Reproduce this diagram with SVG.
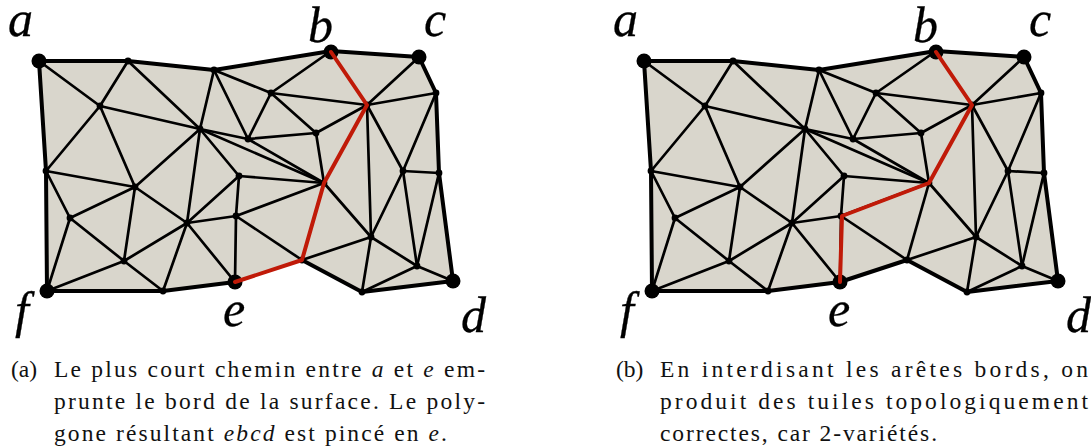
<svg xmlns="http://www.w3.org/2000/svg" xmlns:xlink="http://www.w3.org/1999/xlink" width="1091" height="447" viewBox="0 0 1091 447">
<style>
.surf{fill:#d9d6cc;stroke:none}
.e line{stroke:#000;stroke-width:2.7;stroke-linecap:round}
.bd{fill:none;stroke:#000;stroke-width:4;stroke-linejoin:round;stroke-linecap:round}
.red{fill:none;stroke:#c01a08;stroke-width:4;stroke-linejoin:round;stroke-linecap:round}
.n circle{fill:#000}
.big{fill:#000}
.lab{font-family:"Liberation Serif",serif;font-style:italic;font-size:50px;fill:#000;stroke:#000;stroke-width:.3}
.cap{font-family:"Liberation Serif",serif;font-size:23.5px;fill:#111}
.cap tspan{font-style:italic}
</style>
<defs>
<polygon id="surface" class="surf" points="39,61 128,61 214,70 331,51 419,57 436,93 439,173 453,281 362,292 302,260 235,282 163,291 47,291 46,171"/>
<g id="edges" class="e">
<line x1="39" y1="61" x2="100" y2="106"/><line x1="128" y1="61" x2="100" y2="106"/><line x1="128" y1="61" x2="200" y2="129"/>
<line x1="100" y1="106" x2="200" y2="129"/><line x1="100" y1="106" x2="46" y2="171"/><line x1="100" y1="106" x2="135" y2="187"/>
<line x1="214" y1="70" x2="200" y2="129"/><line x1="214" y1="70" x2="248" y2="139"/><line x1="214" y1="70" x2="271" y2="93"/>
<line x1="248" y1="139" x2="271" y2="93"/><line x1="248" y1="139" x2="316" y2="133"/><line x1="271" y1="93" x2="331" y2="51"/>
<line x1="271" y1="93" x2="367" y2="105"/><line x1="271" y1="93" x2="316" y2="133"/><line x1="316" y1="133" x2="367" y2="105"/>
<line x1="316" y1="133" x2="324" y2="183"/><line x1="367" y1="105" x2="419" y2="57"/><line x1="367" y1="105" x2="436" y2="93"/>
<line x1="367" y1="105" x2="403" y2="171"/><line x1="367" y1="105" x2="371" y2="237"/><line x1="436" y1="93" x2="403" y2="171"/>
<line x1="200" y1="129" x2="248" y2="139"/><line x1="200" y1="129" x2="324" y2="183"/><line x1="248" y1="139" x2="324" y2="183"/>
<line x1="200" y1="129" x2="135" y2="187"/><line x1="200" y1="129" x2="187" y2="223"/><line x1="200" y1="129" x2="239" y2="176"/>
<line x1="135" y1="187" x2="46" y2="171"/><line x1="135" y1="187" x2="70" y2="218"/><line x1="135" y1="187" x2="124" y2="261"/>
<line x1="135" y1="187" x2="187" y2="223"/><line x1="46" y1="171" x2="70" y2="218"/><line x1="70" y1="218" x2="47" y2="291"/>
<line x1="70" y1="218" x2="124" y2="261"/><line x1="124" y1="261" x2="47" y2="291"/><line x1="124" y1="261" x2="163" y2="291"/>
<line x1="124" y1="261" x2="187" y2="223"/><line x1="187" y1="223" x2="163" y2="291"/><line x1="187" y1="223" x2="235" y2="282"/>
<line x1="187" y1="223" x2="239" y2="176"/><line x1="187" y1="223" x2="236" y2="216"/><line x1="239" y1="176" x2="236" y2="216"/>
<line x1="239" y1="176" x2="324" y2="183"/><line x1="236" y1="216" x2="324" y2="183"/><line x1="236" y1="216" x2="302" y2="260"/>
<line x1="324" y1="183" x2="371" y2="237"/><line x1="371" y1="237" x2="302" y2="260"/><line x1="371" y1="237" x2="362" y2="292"/>
<line x1="371" y1="237" x2="403" y2="171"/><line x1="371" y1="237" x2="417" y2="266"/><line x1="403" y1="171" x2="417" y2="266"/>
<line x1="403" y1="171" x2="439" y2="173"/><line x1="439" y1="173" x2="417" y2="266"/><line x1="417" y1="266" x2="362" y2="292"/>
<line x1="417" y1="266" x2="453" y2="281"/><line x1="236" y1="216" x2="235" y2="282"/>
</g>
<g id="dots" class="n">
<circle cx="128" cy="61" r="3.4"/><circle cx="214" cy="70" r="3.4"/><circle cx="436" cy="93" r="3.4"/><circle cx="439" cy="173" r="3.4"/>
<circle cx="362" cy="292" r="3.4"/><circle cx="163" cy="291" r="3.4"/><circle cx="46" cy="171" r="3.4"/><circle cx="100" cy="106" r="3.4"/>
<circle cx="200" cy="129" r="3.4"/><circle cx="248" cy="139" r="3.4"/><circle cx="271" cy="93" r="3.4"/><circle cx="316" cy="133" r="3.4"/>
<circle cx="135" cy="187" r="3.4"/><circle cx="239" cy="176" r="3.4"/><circle cx="236" cy="216" r="3.4"/><circle cx="187" cy="223" r="3.4"/>
<circle cx="70" cy="218" r="3.4"/><circle cx="124" cy="261" r="3.4"/><circle cx="371" cy="237" r="3.4"/><circle cx="403" cy="171" r="3.4"/>
<circle cx="417" cy="266" r="3.4"/><circle cx="367" cy="105" r="3.4"/><circle cx="324" cy="183" r="3.4"/><circle cx="302" cy="260" r="3.4"/>
</g>
</defs>

<g id="panel-a">
<use href="#surface"/>
<g id="connectors-a">
<use href="#edges"/>
<polyline class="bd" points="235,282 163,291 47,291 46,171 39,61 128,61 214,70 331,51 419,57 436,93 439,173 453,281 362,292 302,260"/>
</g>
<use href="#dots"/>
<g id="a-a"><circle class="big" cx="39" cy="61" r="7.5"/><text class="lab" x="8" y="36">a</text></g>
<g id="a-b"><circle class="big" cx="331" cy="52" r="7.5"/><text class="lab" x="308" y="42">b</text></g>
<g id="a-c"><circle class="big" cx="419" cy="57" r="7.5"/><text class="lab" x="424" y="36">c</text></g>
<g id="a-d"><circle class="big" cx="453" cy="281" r="7.5"/><text class="lab" x="461" y="332">d</text></g>
<g id="a-e"><circle class="big" cx="235" cy="282" r="7.5"/><text class="lab" x="223" y="326">e</text></g>
<g id="a-f"><circle class="big" cx="47" cy="291" r="7.5"/><text class="lab" x="15" y="327">f</text></g>
<polyline id="path-a" class="red" points="331,52 367,105 324,183 302,260 235,282"/>
<g id="caption-a">
<text class="cap" x="11" y="377">(a)</text>
<text class="cap" x="54" y="377" textLength="431">Le plus court chemin entre <tspan>a</tspan> et <tspan>e</tspan> em-</text>
<text class="cap" x="54" y="409" textLength="431">prunte le bord de la surface. Le poly-</text>
<text class="cap" x="54" y="441" textLength="393">gone résultant <tspan>ebcd</tspan> est pincé en <tspan>e</tspan>.</text>
</g>
</g>

<g id="panel-b">
<use href="#surface" x="605"/>
<g id="connectors-b">
<use href="#edges" x="605"/>
<line x1="929" y1="183" x2="907" y2="260" stroke="#000" stroke-width="2.7"/>
<polyline class="bd" points="907,260 840,282 768,291 652,291 651,171 644,61 733,61 819,70 936,51 1024,57 1041,93 1044,173 1058,281 967,292 907,260"/>
</g>
<use href="#dots" x="605"/>
<g id="b-a"><circle class="big" cx="644" cy="61" r="7.5"/><text class="lab" x="613" y="36">a</text></g>
<g id="b-b"><circle class="big" cx="936" cy="52" r="7.5"/><text class="lab" x="913" y="42">b</text></g>
<g id="b-c"><circle class="big" cx="1024" cy="57" r="7.5"/><text class="lab" x="1029" y="36">c</text></g>
<g id="b-d"><circle class="big" cx="1058" cy="281" r="7.5"/><text class="lab" x="1066" y="332">d</text></g>
<g id="b-e"><circle class="big" cx="840" cy="282" r="7.5"/><text class="lab" x="828" y="326">e</text></g>
<g id="b-f"><circle class="big" cx="652" cy="291" r="7.5"/><text class="lab" x="620" y="327">f</text></g>
<polyline id="path-b" class="red" points="936,52 972,105 929,183 842,216 840,282"/>
<g id="caption-b">
<text class="cap" x="616" y="377">(b)</text>
<text class="cap" x="660" y="377" textLength="428">En interdisant les arêtes bords, on</text>
<text class="cap" x="660" y="409" textLength="428">produit des tuiles topologiquement</text>
<text class="cap" x="660" y="441" textLength="277">correctes, car 2-variétés.</text>
</g>
</g>
</svg>
